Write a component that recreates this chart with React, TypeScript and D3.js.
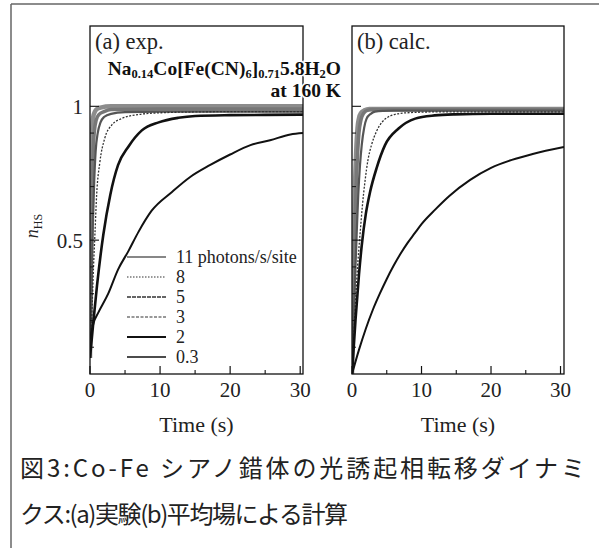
import React from "react";
import * as d3 from "d3";

// ---- data ----
// (a) experiment: time (s) and n_HS for each irradiation intensity
const expT11 = [0, 0.1, 0.2, 0.3, 0.45, 0.7, 1.0, 1.5, 3, 10, 20, 30.4];
const expN11 = [0.06, 0.45, 0.75, 0.9, 0.96, 0.98, 0.99, 0.995, 1.0, 1.0, 1.0, 1.0];
const expT8 = [0, 0.15, 0.3, 0.45, 0.6, 0.9, 1.3, 2, 3, 10, 20, 30.4];
const expN8 = [0.06, 0.35, 0.65, 0.82, 0.9, 0.95, 0.97, 0.98, 0.988, 0.99, 0.99, 0.99];
const expT5 = [0, 0.2, 0.4, 0.6, 0.8, 1.1, 1.5, 2, 3, 5, 10, 20, 30.4];
const expN5 = [0.06, 0.3, 0.55, 0.72, 0.83, 0.9, 0.94, 0.96, 0.972, 0.978, 0.98, 0.98, 0.98];
const expT3 = [0, 0.3, 0.5, 0.7, 0.95, 1.4, 2.1, 3.1, 4.5, 6.9, 10.2, 15, 20, 30.4];
const expN3 = [0.06, 0.25, 0.4, 0.52, 0.67, 0.79, 0.88, 0.93, 0.954, 0.969, 0.976, 0.979, 0.98, 0.98];
const expT2 = [0, 0.5, 1, 1.9, 2.9, 4.0, 5.5, 7.4, 9.8, 12.6, 15, 20, 25, 30.4];
const expN2 = [0.06, 0.2, 0.33, 0.52, 0.67, 0.78, 0.85, 0.91, 0.94, 0.957, 0.964, 0.967, 0.968, 0.969];
const expT03 = [0, 0.5, 1.2, 2.6, 4.0, 5.5, 6.9, 8.8, 11.7, 14.3, 17.1, 20, 22.9, 25.7, 28.6, 30.4];
const expN03 = [0.13, 0.19, 0.23, 0.3, 0.39, 0.46, 0.53, 0.61, 0.68, 0.736, 0.78, 0.82, 0.855, 0.873, 0.895, 0.9];

// (b) mean-field calculation
const calcT11 = [0, 0.15, 0.3, 0.45, 0.6, 0.8, 1.0, 1.3, 1.8, 2.5, 30.5];
const calcN11 = [0, 0.3, 0.55, 0.72, 0.83, 0.92, 0.955, 0.975, 0.985, 0.99, 0.99];
const calcT8 = [0, 0.2, 0.4, 0.6, 0.8, 1.0, 1.3, 1.7, 2.2, 3, 30.5];
const calcN8 = [0, 0.3, 0.52, 0.7, 0.82, 0.9, 0.95, 0.975, 0.985, 0.988, 0.988];
const calcT5 = [0, 0.25, 0.5, 0.67, 0.9, 1.15, 1.4, 1.75, 2.1, 2.7, 3.3, 4.5, 6, 30.5];
const calcN5 = [0, 0.22, 0.4, 0.52, 0.67, 0.78, 0.855, 0.92, 0.954, 0.972, 0.98, 0.983, 0.984, 0.984];
const calcT3 = [0, 0.4, 0.8, 1.15, 1.5, 1.87, 2.3, 2.8, 3.5, 4.3, 5.2, 6.2, 8, 12, 30.5];
const calcN3 = [0, 0.22, 0.4, 0.52, 0.63, 0.72, 0.8, 0.855, 0.905, 0.94, 0.96, 0.97, 0.976, 0.979, 0.979];
const calcT2 = [0, 0.5, 1.0, 1.4, 2.0, 2.6, 3.55, 4.75, 6.7, 9.1, 11.9, 14.8, 20, 30.5];
const calcN2 = [0, 0.2, 0.37, 0.48, 0.6, 0.68, 0.77, 0.855, 0.917, 0.954, 0.966, 0.97, 0.972, 0.972];
const calcT03 = [0, 1, 2, 3, 4, 5, 6, 7, 8, 9, 10, 12, 14, 17, 20, 23, 26, 30.5];
const calcN03 = [0, 0.09, 0.17, 0.24, 0.3, 0.355, 0.405, 0.45, 0.49, 0.525, 0.56, 0.615, 0.665, 0.725, 0.77, 0.8, 0.822, 0.848];

const legendLabels = ["11 photons/s/site", "8", "5", "3", "2", "0.3"];
const xTickLabels = [0, 10, 20, 30];
const xMinorTicks = [5, 15, 25];
const yTickLabels = [0.5, 1];
const yMinorTicks = [0.1, 0.2, 0.3, 0.4, 0.6, 0.7, 0.8, 0.9];

const captionLine1 = "図3:Co-Fe シアノ錯体の光誘起相転移ダイナミ";
const captionLine2 = "クス:(a)実験(b)平均場による計算";

// styles per series (order: 11, 8, 5, 3, 2, 0.3)
const curveStyle = [
  { stroke: "#8c8c8c", width: 4.5, dash: "" },
  { stroke: "#777", width: 3.5, dash: "" },
  { stroke: "#555", width: 2.2, dash: "" },
  { stroke: "#333", width: 1.3, dash: "2,1.5" },
  { stroke: "#111", width: 2.6, dash: "" },
  { stroke: "#111", width: 2, dash: "" },
];
const legendStyle = [
  { stroke: "#111", width: 1.2, dash: "" },
  { stroke: "#333", width: 1.2, dash: "1.5,1.5" },
  { stroke: "#333", width: 1.4, dash: "4,1" },
  { stroke: "#333", width: 1.2, dash: "3,1.5" },
  { stroke: "#111", width: 2, dash: "" },
  { stroke: "#111", width: 1.3, dash: "" },
];

const serif = "'Liberation Serif', 'DejaVu Serif', serif";

const zip = (ts: number[], ns: number[]) => ts.map((t, i) => ({ t, n: ns[i] }));

const expSeries = [
  zip(expT11, expN11),
  zip(expT8, expN8),
  zip(expT5, expN5),
  zip(expT3, expN3),
  zip(expT2, expN2),
  zip(expT03, expN03),
];
const calcSeries = [
  zip(calcT11, calcN11),
  zip(calcT8, calcN8),
  zip(calcT5, calcN5),
  zip(calcT3, calcN3),
  zip(calcT2, calcN2),
  zip(calcT03, calcN03),
];

const top = 26;
const bottom = 374;
const y = d3.scaleLinear().domain([0, 1.3]).range([bottom, top]);

type Pt = { t: number; n: number };

const Panel = ({
  left,
  right,
  xMax,
  series,
  title,
  yLabels,
}: {
  left: number;
  right: number;
  xMax: number;
  series: Pt[][];
  title: string;
  yLabels: boolean;
}) => {
  const x = d3.scaleLinear().domain([0, xMax]).range([left, right]);
  const line = d3
    .line<Pt>()
    .x((d) => x(d.t))
    .y((d) => y(d.n))
    .curve(d3.curveMonotoneX);
  const clipId = "clip" + left;
  return (
    <g>
      <defs>
        <clipPath id={clipId}>
          <rect x={left} y={top} width={right - left} height={bottom - top} />
        </clipPath>
      </defs>
      <g clipPath={`url(#${clipId})`}>
        {series.map((s, i) => (
          <path
            key={i}
            d={line(s) ?? ""}
            fill="none"
            stroke={curveStyle[i].stroke}
            strokeWidth={curveStyle[i].width}
            strokeDasharray={curveStyle[i].dash}
            strokeLinejoin="round"
          />
        ))}
      </g>
      <rect
        x={left}
        y={top}
        width={right - left}
        height={bottom - top}
        fill="none"
        stroke="#111"
        strokeWidth={1.3}
      />
      {xTickLabels.map((v) => (
        <g key={"xt" + v}>
          <line x1={x(v)} x2={x(v)} y1={bottom} y2={bottom - 8} stroke="#111" strokeWidth={1.2} />
          <text
            x={x(v)}
            y={397}
            textAnchor="middle"
            fontFamily={serif}
            fontSize={21}
            fill="#222"
          >
            {v}
          </text>
        </g>
      ))}
      {xMinorTicks.map((v) => (
        <line key={"xm" + v} x1={x(v)} x2={x(v)} y1={bottom} y2={bottom - 4} stroke="#111" strokeWidth={1.1} />
      ))}
      {yTickLabels.map((v) => (
        <g key={"yt" + v}>
          <line x1={left} x2={left + 9} y1={y(v)} y2={y(v)} stroke="#111" strokeWidth={1.1} />
          {yLabels && (
            <text
              x={left - 7}
              y={y(v)}
              dy="0.35em"
              textAnchor="end"
              fontFamily={serif}
              fontSize={21}
              fill="#222"
            >
              {v}
            </text>
          )}
        </g>
      ))}
      {yMinorTicks.map((v) => (
        <line key={"ym" + v} x1={left} x2={left + 4} y1={y(v)} y2={y(v)} stroke="#111" strokeWidth={1} />
      ))}
      <text
        x={(left + right) / 2}
        y={432}
        textAnchor="middle"
        fontFamily={serif}
        fontSize={22}
        fill="#222"
      >
        Time (s)
      </text>
      <text x={left + 5} y={49} fontFamily={serif} fontSize={22.5} fill="#222">
        {title}
      </text>
    </g>
  );
};

export default function App() {
  const legendX = d3.scaleLinear().domain([0, 1]).range([127, 166]);
  const legendY = d3.scaleLinear().domain([0, 5]).range([257, 357]);
  return (
    <svg
      width={599}
      height={551}
      style={{ position: "absolute", left: 0, top: 0, background: "#fff" }}
    >
      {/* frame of the figure box */}
      <line x1={11} x2={599} y1={4} y2={4} stroke="#666" strokeWidth={1.5} />
      <line x1={11} x2={11} y1={4} y2={548} stroke="#666" strokeWidth={1.5} />

      <Panel left={90} right={303} xMax={30.4} series={expSeries} title="(a) exp." yLabels={true} />
      <Panel left={352} right={564} xMax={30.5} series={calcSeries} title="(b) calc." yLabels={false} />

      {/* compound label */}
      <g
        fontFamily={serif}
        fontWeight="bold"
        fontSize={19.5}
        fill="#111"
        stroke="#fff"
        strokeWidth={3}
        style={{ paintOrder: "stroke" }}
      >
        <text x={341} y={75} textAnchor="end">
          Na<tspan fontSize={12.5} dy={3}>0.14</tspan>
          <tspan dy={-3}>Co[Fe(CN)</tspan>
          <tspan fontSize={12.5} dy={3}>6</tspan>
          <tspan dy={-3}>]</tspan>
          <tspan fontSize={12.5} dy={3}>0.71</tspan>
          <tspan dy={-3}>5.8H</tspan>
          <tspan fontSize={12.5} dy={3}>2</tspan>
          <tspan dy={-3}>O</tspan>
        </text>
        <text x={341} y={97} textAnchor="end">
          at 160 K
        </text>
      </g>

      {/* y axis label */}
      <text
        transform="translate(38,226) rotate(-90)"
        textAnchor="middle"
        fontFamily={serif}
        fontSize={18}
        fill="#222"
      >
        <tspan fontStyle="italic">n</tspan>
        <tspan fontSize={12} dy={4}>HS</tspan>
      </text>

      {/* legend */}
      {legendLabels.map((lab, i) => (
        <g key={lab}>
          <line
            x1={legendX(0)}
            x2={legendX(1)}
            y1={legendY(i)}
            y2={legendY(i)}
            stroke={legendStyle[i].stroke}
            strokeWidth={legendStyle[i].width}
            strokeDasharray={legendStyle[i].dash}
          />
          <text x={176} y={legendY(i) + 6} fontFamily={serif} fontSize={18} fill="#222">
            {lab}
          </text>
        </g>
      ))}

      {/* caption */}
      <g fontFamily="'Noto Sans CJK JP', sans-serif" fontSize={24} fill="#222">
        <text x={20} y={477} textLength={565} lengthAdjust="spacing">
          {captionLine1}
        </text>
        <text x={20} y={523} textLength={328} lengthAdjust="spacing">
          {captionLine2}
        </text>
      </g>
    </svg>
  );
}
